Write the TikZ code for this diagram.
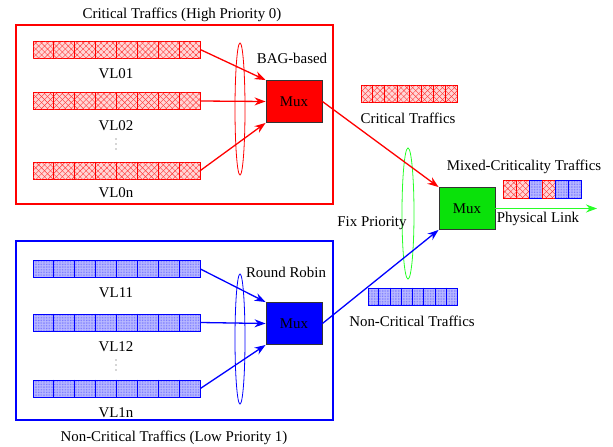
\documentclass[tikz,border=0pt]{standalone}
\usepackage{fontspec}
\setmainfont{Liberation Serif}
\usetikzlibrary{patterns,patterns.meta,arrows.meta,calc}
\definecolor{mgreen}{RGB}{10,225,10}
\definecolor{lgreen}{RGB}{40,255,40}
\definecolor{pinkq}{RGB}{255,215,215}
\definecolor{blueq}{RGB}{185,185,255}
\newcommand\qcells[3]{\foreach \i in {1,...,#2}{\draw[#3,line width=0.8pt] ($(#1.north west)!\i/(#2+1)!(#1.north east)$) -- ($(#1.south west)!\i/(#2+1)!(#1.south east)$);}}
\newcommand\vdotsmark[1]{\foreach \k in {-5,0,5}{\fill[black!70] ($(#1)+(0,\k)$) circle (0.6pt);}}
\begin{document}
\begin{tikzpicture}[x=1pt,y=-1pt,font=\fontsize{14.9}{17}\selectfont,
  redq/.style={draw=red,line width=0.8pt,inner sep=0pt,minimum height=17pt,
    preaction={fill=pinkq},
    pattern={Lines[angle=45,distance=4.2pt,line width=0.4pt]},pattern color=red!80,
    postaction={pattern={Lines[angle=-45,distance=4.2pt,line width=0.4pt]},pattern color=red!80}},
  blueq/.style={draw=blue,line width=0.8pt,inner sep=0pt,minimum height=17pt,
    preaction={fill=blueq},
    pattern={Dots[distance=1.6pt,radius=0.35pt]},pattern color=blue!70},
  muxbox/.style={draw=black!80,line width=0.9pt,minimum width=56pt,minimum height=42pt,inner sep=0pt},
  frame/.style={line width=1.4pt},
  arr/.style={line width=1.3pt,-{Stealth[length=11pt,width=8pt]}},
  lbl/.style={inner sep=0pt}]
\useasboundingbox (0,0) rectangle (613,447);

% frames
\node[frame,draw=red,minimum width=317pt,minimum height=179pt,inner sep=0] (fr1) at (174.5,114.5) {};
\node[frame,draw=blue,minimum width=317pt,minimum height=179pt,inner sep=0] (fr2) at (174.5,330.5) {};
\node[lbl] (t1) at (182,15) {Critical Traffics (High Priority 0)};
\node[lbl] (t2) at (174,438) {Non-Critical Traffics (Low Priority 1)};

% red queues
\node[redq,minimum width=167pt] (q01) at (116.5,49.5) {};
\node[redq,minimum width=167pt] (q02) at (116.5,101) {};
\node[redq,minimum width=167pt] (q0n) at (116.5,170.5) {};
\qcells{q01}{7}{red}\qcells{q02}{7}{red}\qcells{q0n}{7}{red}
\node[lbl] (l01) at (116,74) {VL01};
\node[lbl] (l02) at (116,126) {VL02};
\coordinate (d0) at (116,144);
\vdotsmark{d0}
\node[lbl] (l0n) at (116,193) {VL0n};

% blue queues
\node[blueq,minimum width=167pt] (q11) at (116.5,269) {};
\node[blueq,minimum width=167pt] (q12) at (116.5,322.5) {};
\node[blueq,minimum width=167pt] (q1n) at (116.5,388.5) {};
\qcells{q11}{7}{blue}\qcells{q12}{7}{blue}\qcells{q1n}{7}{blue}
\node[lbl] (l11) at (116,293) {VL11};
\node[lbl] (l12) at (116,347) {VL12};
\coordinate (d1) at (116,365);
\vdotsmark{d1}
\node[lbl] (l1n) at (116,413) {VL1n};

% ellipses
\draw[red,line width=0.8pt] (240,109) ellipse [x radius=5,y radius=66];
\draw[blue,line width=0.8pt] (240,339) ellipse [x radius=5,y radius=65];
\draw[lgreen,line width=0.8pt] (408,213.5) ellipse [x radius=6,y radius=65.5];

% muxes
\node[muxbox,fill=red] (m0) at (294,101.5) {Mux};
\node[muxbox,fill=blue] (m1) at (294,323.5) {Mux};
\node[muxbox,fill=mgreen] (mg) at (467,208.5) {Mux};
\node[lbl] (bag) at (292,58) {BAG-based};
\node[lbl] (rr) at (286,272) {Round Robin};

% arrows
\draw[arr,red] (q01.east) -- (m0.north west);
\draw[arr,red] (q02.east) -- (m0.west);
\draw[arr,red] (q0n.east) -- (m0.south west);
\draw[arr,blue] (q11.east) -- (m1.north west);
\draw[arr,blue] (q12.east) -- (m1.west);
\draw[arr,blue] (q1n.east) -- (m1.south west);
\draw[arr,red] (m0.east) -- (mg.north west);
\draw[arr,blue] (m1.east) -- (mg.south west);
\coordinate (pend) at (597,208.5);
\draw[arr,lgreen] (mg.east) -- (pend);

% legend queues
\node[redq,minimum width=96pt] (qc) at (409,93.5) {};
\qcells{qc}{7}{red}
\node[lbl] (lc) at (408,118) {Critical Traffics};
\node[blueq,minimum width=89pt] (qn) at (412.5,296.5) {};
\qcells{qn}{7}{blue}
\node[lbl] (ln) at (412,321) {Non-Critical Traffics};
\node[lbl] (fp) at (372,223) {Fix Priority};
\node[lbl] (mc) at (524,167) {Mixed-Criticality Traffics};
\node[lbl] (pl) at (538,219) {Physical Link};

% mixed queue
\node[redq,minimum width=13pt,minimum height=18pt] (c1) at (509.5,189) {};
\node[redq,minimum width=13pt,minimum height=18pt] (c2) at (522.5,189) {};
\node[blueq,minimum width=13pt,minimum height=18pt] (c3) at (535.5,189) {};
\node[redq,minimum width=13pt,minimum height=18pt] (c4) at (548.5,189) {};
\node[blueq,minimum width=13pt,minimum height=18pt] (c5) at (561.5,189) {};
\node[blueq,minimum width=13pt,minimum height=18pt] (c6) at (574.5,189) {};
\end{tikzpicture}
\end{document}
